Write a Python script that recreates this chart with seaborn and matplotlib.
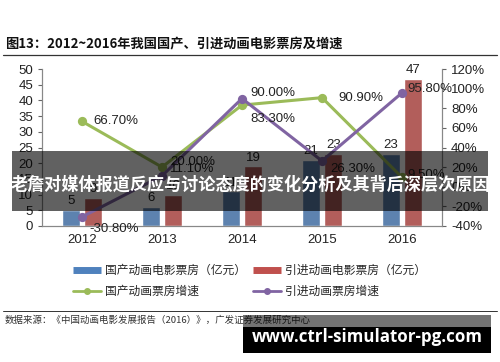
import numpy as np
import pandas as pd
import matplotlib
matplotlib.use("Agg")
import matplotlib.pyplot as plt
from matplotlib.lines import Line2D
from matplotlib.patches import Rectangle
from matplotlib.ticker import FuncFormatter
import seaborn as sns

years = ["2012", "2013", "2014", "2015", "2016"]
domestic_box = [5, 6, 11, 21, 23]
imported_box = [9, 10, 19, 23, 47]
domestic_growth = [66.7, 20.0, 83.3, 90.9, 9.5]
imported_growth = [-30.8, 11.1, 90.0, 26.3, 95.8]

bar_names = ["国产动画电影票房（亿元）", "引进动画电影票房（亿元）"]
line_names = ["国产动画票房增速", "引进动画票房增速"]

BLUE = "#4F81BD"
RED = "#C0504D"
GREEN = "#9BBB59"
PURPLE = "#8064A2"
NUM_FONT = "Liberation Sans"

sns.set_theme(style="white")
plt.rcParams["font.family"] = ["Noto Sans CJK SC", "DejaVu Sans"]
plt.rcParams["axes.unicode_minus"] = False

bars = pd.DataFrame({
    "year": years * 2,
    "value": domestic_box + imported_box,
    "series": [bar_names[0]] * 5 + [bar_names[1]] * 5,
})

fig = plt.figure(figsize=(5.0, 3.62), dpi=100)
ax = fig.add_axes([0.084, 0.376, 0.80, 0.433])

sns.barplot(data=bars, x="year", y="value", hue="series", order=years,
            palette=[BLUE, RED], width=0.56, gap=0.2, legend=False, ax=ax)
ax.set_ylim(0, 50)
ax.set_yticks(np.arange(0, 51, 5))
ax.set_xlim(-0.5, 4.5)
ax.set_xlabel("")
ax.set_ylabel("")
for c in ax.containers:
    ax.bar_label(c, labels=[f"{v:.0f}" for v in c.datavalues], padding=2, fontsize=9.5,
                 family=NUM_FONT, color="#222222")

ax2 = ax.twinx()
sns.pointplot(x=years, y=domestic_growth, order=years, color=GREEN, markers="o",
              markersize=5, linewidth=2.2, ax=ax2)
sns.pointplot(x=years, y=imported_growth, order=years, color=PURPLE, markers="o",
              markersize=5, linewidth=2.2, ax=ax2)
ax2.set_ylim(-40, 120)
ax2.set_yticks(np.arange(-40, 121, 20))
ax2.yaxis.set_major_formatter(FuncFormatter(lambda v, p: f"{v:.0f}%"))
ax2.set_xlim(-0.5, 4.5)

# percentage labels, offsets in points
green_off = [(8, 0), (6, 4), (6, -10), (12, 0), (4, 2)]
purple_off = [(5, -9), (6, 5), (6, 4), (6, -6), (4, 3)]
for i, v in enumerate(domestic_growth):
    ax2.annotate(f"{v:.2f}%", (i, v), xytext=green_off[i], textcoords="offset points",
                 fontsize=9.5, family=NUM_FONT, va="center", color="#222222")
for i, v in enumerate(imported_growth):
    ax2.annotate(f"{v:.2f}%", (i, v), xytext=purple_off[i], textcoords="offset points",
                 fontsize=9.5, family=NUM_FONT, va="center", color="#222222")

for a in (ax, ax2):
    a.spines["top"].set_visible(False)
    for s in ("left", "right", "bottom"):
        a.spines[s].set_color("#888888")
        a.spines[s].set_linewidth(0.8)
    a.tick_params(axis="y", labelsize=9.5, length=3, width=0.8, color="#666666",
                  labelcolor="#222222")
    a.tick_params(axis="x", labelsize=9.5, length=0, labelcolor="#222222", pad=6)
    for t in a.get_yticklabels() + a.get_xticklabels():
        t.set_fontfamily(NUM_FONT)
ax.tick_params(axis="y", left=True)
ax2.tick_params(axis="y", right=True)
ax2.set_ylabel("")

# title and rules
fig.text(0.01, 0.878, "图13：2012~2016年我国国产、引进动画电影票房及增速", fontsize=9.5,
         fontweight="bold", va="center", ha="left", color="#111111")
fig.add_artist(Line2D([0.006, 0.994], [0.848, 0.848], color="#333333", lw=0.9))
fig.add_artist(Line2D([0.006, 0.994], [0.141, 0.141], color="#333333", lw=0.7))
fig.text(0.01, 0.116, "数据来源：《中国动画电影发展报告（2016）》，广发证券发展研究中心",
         fontsize=6.8, va="center", ha="left", color="#333333")

# legend (column-major fill: bars on first row, lines on second)
handles = [
    Line2D([], [], color=BLUE, lw=5, solid_capstyle="butt"),
    Line2D([], [], color=GREEN, lw=2, marker="o", markersize=4),
    Line2D([], [], color=RED, lw=5, solid_capstyle="butt"),
    Line2D([], [], color=PURPLE, lw=2, marker="o", markersize=4),
]
labels = [bar_names[0], line_names[0], bar_names[1], line_names[1]]
fig.legend(handles, labels, loc="upper left", bbox_to_anchor=(0.125, 0.30), ncol=2,
           frameon=False, fontsize=8.5, handlelength=2.4, handletextpad=0.3,
           columnspacing=0.6, labelspacing=0.7)

# overlay banner
fig.add_artist(Rectangle((0.024, 0.417), 0.952, 0.166, transform=fig.transFigure,
                         facecolor="black", alpha=0.62, edgecolor="none", zorder=10))
fig.text(0.5, 0.49, "老詹对媒体报道反应与讨论态度的变化分析及其背后深层次原因", fontsize=12.3,
         fontweight="bold", color="white", ha="center", va="center", zorder=11)

# watermark box
fig.add_artist(Rectangle((0.486, 0.098), 0.496, 0.032, transform=fig.transFigure,
                         facecolor="black", alpha=0.55, edgecolor="none", zorder=10))
fig.add_artist(Rectangle((0.486, 0.025), 0.496, 0.073, transform=fig.transFigure,
                         facecolor="black", edgecolor="none", zorder=10))
fig.text(0.734, 0.069, "www.ctrl-simulator-pg.com", fontsize=12.2, fontweight="bold",
         color="white", ha="center", va="center", zorder=11, family="Open Sans")

fig.savefig("out.png", dpi=100, facecolor="white")
